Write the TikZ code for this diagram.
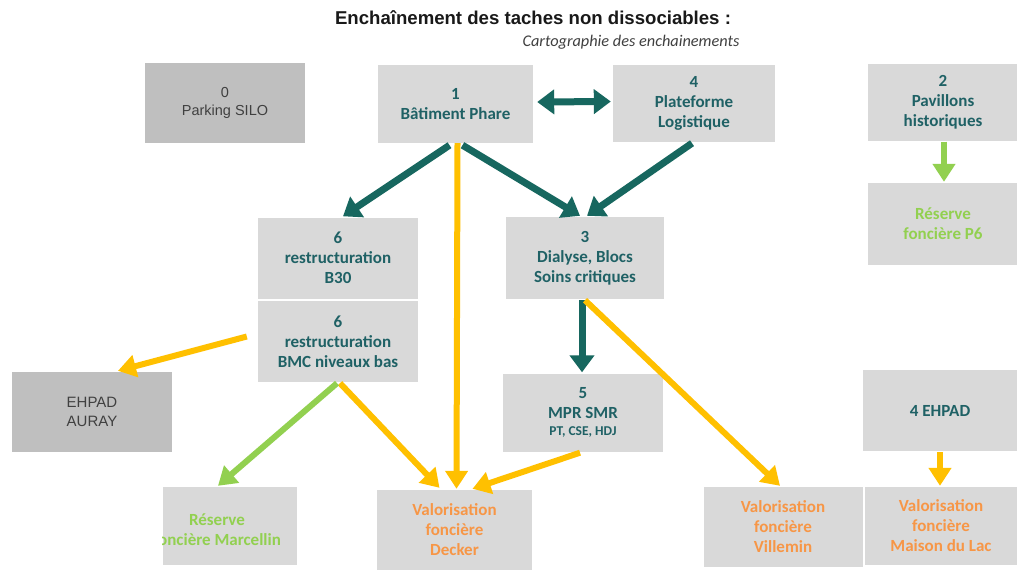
\documentclass[tikz,border=0pt]{standalone}
\usepackage{fontspec}
\usetikzlibrary{arrows.meta,calc}
\newfontfamily\carlito{Carlito}
\newfontfamily\arialfont{Liberation Sans}
\definecolor{boxgrey}{HTML}{D9D9D9}
\definecolor{darkgrey}{HTML}{BFBFBF}
\definecolor{tealtext}{HTML}{1F6165}
\definecolor{tealarrow}{HTML}{17675F}
\definecolor{gold}{HTML}{FFC000}
\definecolor{leaf}{HTML}{92D050}
\definecolor{orangetext}{HTML}{F79646}
\definecolor{greytext}{HTML}{404040}

\tikzset{
  boxtext/.style={inner sep=0pt, align=center, text=tealtext,
    font=\carlito\bfseries\fontsize{17}{20}\selectfont},
  box/.style={boxtext, fill=boxgrey},
  orangebox/.style={box, text=orangetext},
  greenbox/.style={box, text=leaf},
  greentext/.style={boxtext, text=leaf},
  darkbox/.style={fill=darkgrey, inner sep=0pt, align=center, text=greytext,
    font=\arialfont\fontsize{14.5}{18}\selectfont},
  tealarr/.style={draw=tealarrow, line width=7pt, -{Triangle[length=17pt,width=24pt]}},
  tealdbl/.style={draw=tealarrow, line width=7pt,
    {Triangle[length=17pt,width=24pt]}-{Triangle[length=17pt,width=24pt]}},
  goldarr/.style={draw=gold, line width=6pt, -{Triangle[length=18pt,width=22pt]}},
  leafarr/.style={draw=leaf, line width=6pt, -{Triangle[length=18pt,width=22pt]}},
}

\begin{document}
\begin{tikzpicture}[x=1pt,y=-1pt]
\useasboundingbox[fill=white] (0,0) rectangle (1017,570);

% headings
\node[font=\arialfont\bfseries\fontsize{18.6}{22}\selectfont, text=black!90] (title) at (533,18)
  {Enchaînement des taches non dissociables :};
\node[anchor=east, font=\carlito\itshape\fontsize{16.3}{19}\selectfont, text=black!75] (subtitle) at (743,42)
  {Cartographie des enchainements};

% work packages
\node[darkbox, minimum width=160pt, minimum height=80pt] (silo) at (225,103) {0\\Parking SILO};
\node[box, minimum width=155pt, minimum height=78pt] (p1) at (455.5,104) {1\\Bâtiment Phare};
\node[box, minimum width=162pt, minimum height=77pt] (p4) at (694,103.5) {4\\Plateforme\\Logistique};
\node[box, minimum width=150pt, minimum height=77pt] (p2) at (943,102) {2\\Pavillons\\historiques};
\node[greenbox, minimum width=150pt, minimum height=82pt] (p6) at (943,224) {Réserve\\foncière P6};

\node[box, minimum width=160pt, minimum height=81pt] (b30) at (338,258) {6\\restructuration\\B30};
\node[box, minimum width=160pt, minimum height=81pt] (bmc) at (338,341.5) {6\\restructuration\\BMC niveaux bas};
\node[darkbox, minimum width=160pt, minimum height=80pt, font=\arialfont\fontsize{15}{18.5}\selectfont] (auray) at (92,412) {EHPAD\\AURAY};

\node[box, minimum width=158pt, minimum height=82pt] (p3) at (585,258) {3\\Dialyse, Blocs\\Soins critiques};
\node[box, minimum width=160pt, minimum height=78pt] (p5) at (583,412.5)
  {5\\MPR SMR\\[-3pt]{\fontsize{13.5}{15}\selectfont PT, CSE, HDJ}};

\node[box, minimum width=155pt, minimum height=81pt] (ehpad) at (940,410.5) {4 EHPAD};

% land plots
\node[box, minimum width=134pt, minimum height=78pt] (marc) at (230,526) {};
\begin{scope}
  \clip (marc.north west) rectangle (marc.south east);
  \node[greentext] (marctext) at (217,530) {Réserve\\foncière Marcellin};
\end{scope}
\node[orangebox, minimum width=155pt, minimum height=80pt] (decker) at (454.5,530) {Valorisation\\foncière\\Decker};
\node[orangebox, minimum width=159pt, minimum height=80pt] (vill) at (783,527) {Valorisation\\foncière\\Villemin};
\node[orangebox, minimum width=152pt, minimum height=78pt] (lac) at (941,526) {Valorisation\\foncière\\Maison du Lac};

% teal dependencies
\draw[tealdbl] ($(p1.east)+(4,-2)$) -- ($(p4.west)+(-2,-2)$);
\draw[tealarr] ($(p1.south)+(-6,2)$) -- ($(b30.north)+(5,-1)$);
\draw[tealarr] ($(p1.south)+(7,2)$) -- ($(p3.north)+(-5,-1)$);
\draw[tealarr] ($(p4.south)+(-2,1)$) -- ($(p3.north)+(2,-1)$);
\draw[tealarr] ($(p3.south)+(-3,1)$) -- ($(p5.north)+(-1,-1)$);

% gold dependencies
\draw[goldarr] ($(p1.south)+(2,0)$) -- ($(decker.north)+(2,-1)$);
\draw[goldarr] ($(p3.south)+(0,1)$) -- ($(vill.north)+(-3,-1)$);
\draw[goldarr] ($(bmc.west)+(-11,-5)$) -- ($(auray.north)+(26,-1)$);
\draw[goldarr] ($(bmc.south)+(2,1)$) -- ($(decker.north)+(-15,-2)$);
\draw[goldarr] ($(p5.south)+(-3,1)$) -- ($(decker.north)+(18,-1)$);
\draw[goldarr] ($(ehpad.south)+(0,1)$) -- ($(lac.north)+(-1,-1)$);

% green dependencies
\draw[leafarr] ($(bmc.south)+(-1,1)$) -- ($(marc.north)+(-12,-1)$);
\draw[leafarr] ($(p2.south)+(1,1)$) -- ($(p6.north)+(1,-1)$);
\end{tikzpicture}
\end{document}
